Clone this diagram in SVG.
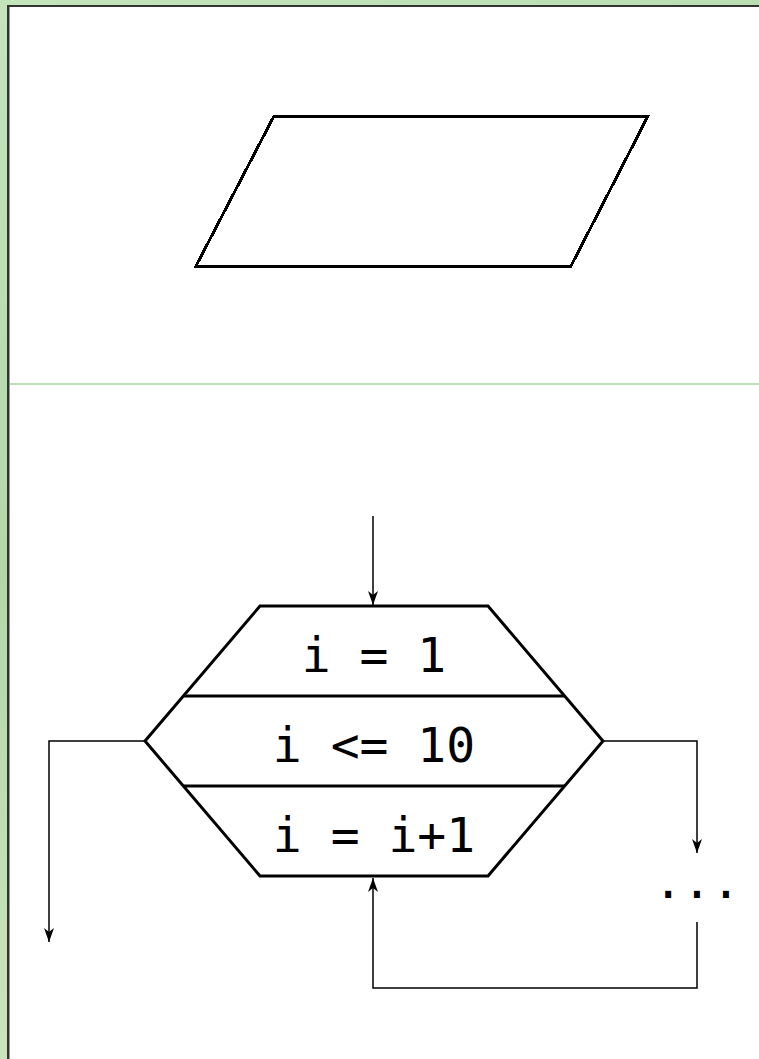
<svg xmlns="http://www.w3.org/2000/svg" width="759" height="1059" viewBox="0 0 759 1059">
<defs>
<linearGradient id="bg" x1="0" y1="0" x2="0.3" y2="1">
<stop offset="0" stop-color="#c4e4bc"/>
<stop offset="0.5" stop-color="#b2d8a8"/>
<stop offset="1" stop-color="#cfe6c0"/>
</linearGradient>
<marker id="arr" viewBox="0 0 14 10" refX="14" refY="5" markerWidth="14" markerHeight="10" markerUnits="userSpaceOnUse" orient="auto">
<path d="M0,0 L14,5 L0,10 L4,5 Z" fill="#000"/>
</marker>
</defs>
<style>
.shape{fill:none;stroke:#000;stroke-width:3}
.conn{fill:none;stroke:#000;stroke-width:1.5}
.lbl{font-family:"DejaVu Sans Mono","Liberation Mono",monospace;font-size:48px;fill:#000;text-anchor:middle}
</style>
<rect x="0" y="0" width="759" height="1059" fill="url(#bg)"/>
<rect x="9" y="7" width="750" height="1052" fill="#fff"/>
<line x1="8" y1="5" x2="8" y2="1059" stroke="#333" stroke-width="2"/>
<line x1="9.5" y1="7" x2="9.5" y2="1059" stroke="#999" stroke-width="1"/>
<line x1="7" y1="6" x2="759" y2="6" stroke="#333" stroke-width="2"/>
<line x1="10" y1="384" x2="759" y2="384" stroke="#a9d39b" stroke-width="1.5"/>
<g id="parallelogram">
<polygon class="shape" points="274,116 648,116 571,266 196,266" shape-rendering="crispEdges"/>
</g>
<g id="loop">
<polygon class="shape" points="260,606 488,606 603,741 488,876 260,876 145,741"/>
<line class="shape" x1="183" y1="696" x2="565" y2="696"/>
<line class="shape" x1="183" y1="786" x2="565" y2="786"/>
<text class="lbl" x="374" y="672">i = 1</text>
<text class="lbl" x="374" y="762">i &lt;= 10</text>
<text class="lbl" x="374" y="852">i = i+1</text>
</g>
<g id="ellipsis">
<text class="lbl" x="697" y="898">...</text>
</g>
<g id="connectors">
<path class="conn" d="M373,516 V605" marker-end="url(#arr)"/>
<path class="conn" d="M145,741 H49 V942" marker-end="url(#arr)"/>
<path class="conn" d="M603,741 H697 V853" marker-end="url(#arr)"/>
<path class="conn" d="M697,922 V988 H373 V878" marker-end="url(#arr)"/>
</g>
</svg>
